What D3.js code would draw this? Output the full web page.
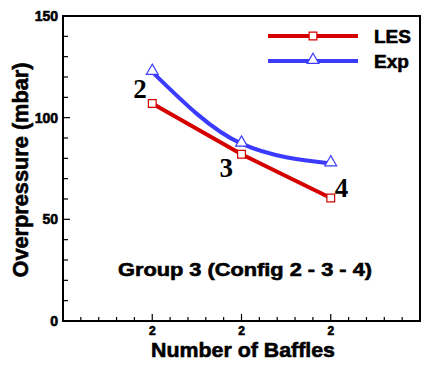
<!DOCTYPE html>
<html>
<head>
<meta charset="utf-8">
<script src="https://cdn.jsdelivr.net/npm/d3@7"></script>
<style>
  html, body { margin: 0; padding: 0; background: #fff; }
  svg { display: block; font-family: Arial, "Liberation Sans", sans-serif; }
  .heavy { stroke: #000; stroke-width: 0.6px; }
</style>
</head>
<body>
<svg id="chart" width="426" height="367"></svg>
<script>
// data
const baffles = [2, 3, 4];
const lesValues = [107, 82, 60.5];
const expValues = [122.5, 87.2, 77.5];
const configLabels = ["2", "3", "4"];
const xTickValues = [2, 3, 4];
const xTickLabels = ["2", "2", "2"];
const yTickValues = [0, 50, 100, 150];

const width = 426;
const height = 367;
const margin = { top: 16, right: 6, bottom: 46, left: 63 };

const svg = d3.select("#chart");

const x = d3.scaleLinear()
  .domain([1, 5])
  .range([margin.left, width - margin.right]);

const y = d3.scaleLinear()
  .domain([0, 150])
  .range([height - margin.bottom, margin.top]);

const red = "#d40000";
const blue = "#3b3bff";

// minor ticks
const yMinor = d3.range(0, 151, 10).filter(v => v % 50 !== 0);
const xMinor = d3.range(1.2, 4.9, 0.2).filter(v => Math.abs(v - Math.round(v)) > 0.01);

const ticks = svg.append("g").attr("stroke", "#000").attr("stroke-width", 1.2);

ticks.selectAll(".ymin")
  .data(yMinor)
  .enter().append("line")
  .attr("x1", x(1)).attr("x2", x(1) + 5)
  .attr("y1", d => y(d)).attr("y2", d => y(d));

ticks.selectAll(".ymaj")
  .data(yTickValues)
  .enter().append("line")
  .attr("x1", x(1)).attr("x2", x(1) + 7)
  .attr("y1", d => y(d)).attr("y2", d => y(d));

ticks.selectAll(".xmin")
  .data(xMinor)
  .enter().append("line")
  .attr("x1", d => x(d)).attr("x2", d => x(d))
  .attr("y1", y(0)).attr("y2", y(0) - 4);

ticks.selectAll(".xmaj")
  .data(xTickValues)
  .enter().append("line")
  .attr("x1", d => x(d)).attr("x2", d => x(d))
  .attr("y1", y(0)).attr("y2", y(0) - 7);

// frame
svg.append("rect")
  .attr("x", x(1))
  .attr("y", y(150))
  .attr("width", x(5) - x(1))
  .attr("height", y(0) - y(150))
  .attr("fill", "none")
  .attr("stroke", "#000")
  .attr("stroke-width", 2);

// tick labels
svg.append("g")
  .selectAll("text")
  .data(yTickValues)
  .enter().append("text")
  .attr("class", "heavy")
  .attr("x", x(1) - 5)
  .attr("y", d => y(d))
  .attr("dy", "0.36em")
  .attr("text-anchor", "end")
  .attr("font-size", "14px")
  .attr("font-weight", "bold")
  .text(d => d);

svg.append("g")
  .selectAll("text")
  .data(xTickValues)
  .enter().append("text")
  .attr("class", "heavy")
  .attr("x", d => x(d))
  .attr("y", y(0) + 14)
  .attr("text-anchor", "middle")
  .attr("font-size", "12px")
  .attr("font-weight", "bold")
  .text((d, i) => xTickLabels[i]);

// axis titles
svg.append("text")
  .attr("class", "heavy")
  .attr("x", 151)
  .attr("y", 357)
  .attr("font-size", "21px")
  .attr("font-weight", "bold")
  .attr("textLength", 184)
  .attr("lengthAdjust", "spacingAndGlyphs")
  .text("Number of Baffles");

svg.append("text")
  .attr("class", "heavy")
  .attr("transform", "translate(28,170) rotate(-90)")
  .attr("text-anchor", "middle")
  .attr("font-size", "22px")
  .attr("font-weight", "bold")
  .attr("textLength", 215)
  .attr("lengthAdjust", "spacingAndGlyphs")
  .text("Overpressure (mbar)");

// group label
svg.append("text")
  .attr("class", "heavy")
  .attr("x", 118)
  .attr("y", 276)
  .attr("font-size", "18.5px")
  .attr("font-weight", "bold")
  .attr("textLength", 254)
  .attr("lengthAdjust", "spacingAndGlyphs")
  .text("Group 3 (Config 2 - 3 - 4)");

// series
const lesPts = baffles.map((b, i) => [x(b), y(lesValues[i])]);
const expPts = baffles.map((b, i) => [x(b), y(expValues[i])]);

svg.append("path")
  .attr("d", d3.line().curve(d3.curveMonotoneX)(expPts))
  .attr("fill", "none")
  .attr("stroke", blue)
  .attr("stroke-width", 4);

svg.append("path")
  .attr("d", d3.line()(lesPts))
  .attr("fill", "none")
  .attr("stroke", red)
  .attr("stroke-width", 4);

const square = d3.symbol().type(d3.symbolSquare).size(60);
const triangle = d3.symbol().type(d3.symbolTriangle).size(60);

svg.append("g")
  .selectAll("path")
  .data(lesPts)
  .enter().append("path")
  .attr("transform", d => `translate(${d[0]},${d[1]})`)
  .attr("d", square)
  .attr("fill", "#fff")
  .attr("stroke", red)
  .attr("stroke-width", 1.2);

svg.append("g")
  .selectAll("path")
  .data(expPts)
  .enter().append("path")
  .attr("transform", d => `translate(${d[0]},${d[1] - 1})`)
  .attr("d", triangle)
  .attr("fill", "#fff")
  .attr("stroke", blue)
  .attr("stroke-width", 1.2);

// config numbers next to the LES points
const labelOffsets = [[-19, -5], [-22, 23], [4, -1]];
svg.append("g")
  .selectAll("text")
  .data(configLabels)
  .enter().append("text")
  .attr("x", (d, i) => lesPts[i][0] + labelOffsets[i][0])
  .attr("y", (d, i) => lesPts[i][1] + labelOffsets[i][1])
  .attr("font-family", "'Liberation Serif', 'Times New Roman', serif")
  .attr("font-size", "27px")
  .attr("font-weight", "bold")
  .text(d => d);

// legend
const legend = [
  { name: "LES", color: red, symbol: square, y: 36 },
  { name: "Exp", color: blue, symbol: triangle, y: 61 }
];

const lg = svg.append("g")
  .selectAll("g")
  .data(legend)
  .enter().append("g");

lg.append("line")
  .attr("x1", 268).attr("x2", 358)
  .attr("y1", d => d.y).attr("y2", d => d.y)
  .attr("stroke", d => d.color)
  .attr("stroke-width", 4);

lg.append("path")
  .attr("transform", d => `translate(313,${d.y - (d.name === "Exp" ? 1 : 0)})`)
  .attr("d", d => d.symbol())
  .attr("fill", "#fff")
  .attr("stroke", d => d.color)
  .attr("stroke-width", 1.2);

lg.append("text")
  .attr("class", "heavy")
  .attr("x", 374)
  .attr("y", d => d.y + 6.5)
  .attr("font-size", "19px")
  .attr("font-weight", "bold")
  .text(d => d.name);
</script>
</body>
</html>
